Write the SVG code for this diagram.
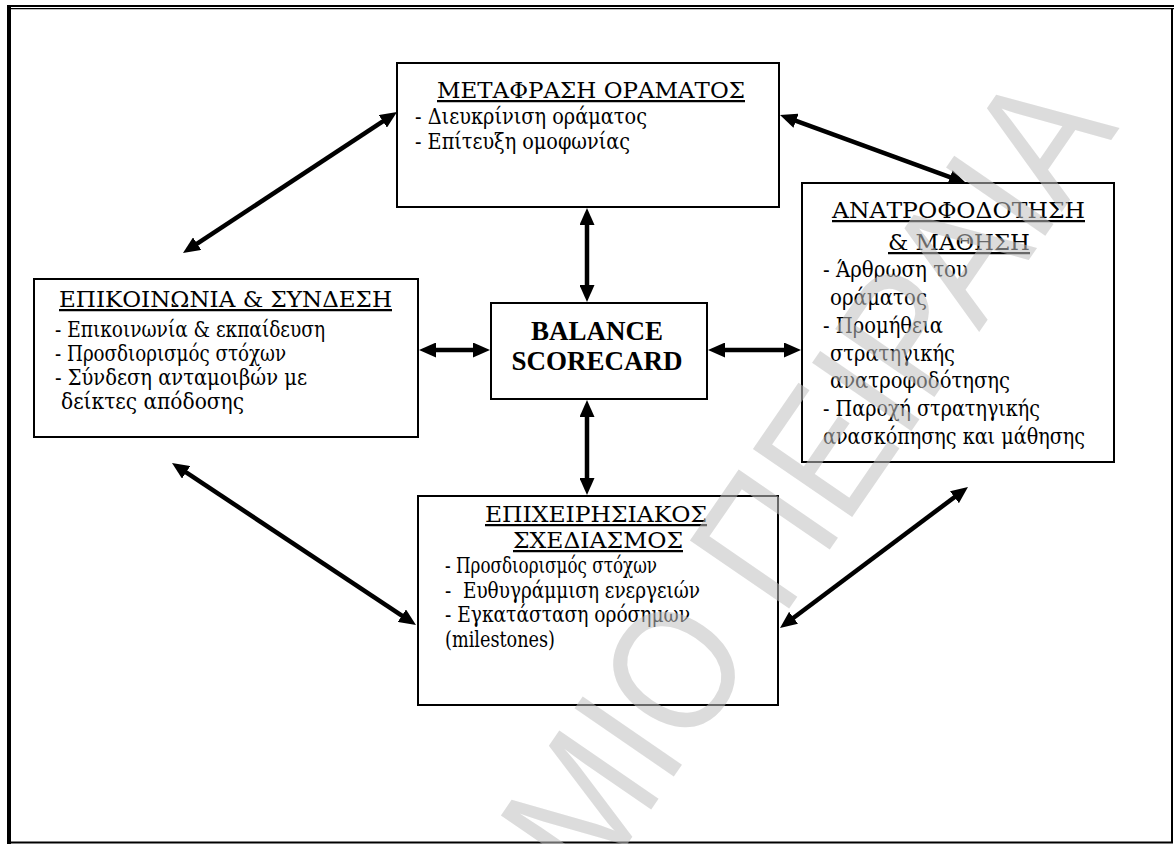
<svg xmlns="http://www.w3.org/2000/svg" width="1174" height="844" viewBox="0 0 1174 844">
  <defs>
    <marker id="head" markerUnits="userSpaceOnUse" viewBox="0 0 17 15" markerWidth="17" markerHeight="15" refX="5" refY="7.5" orient="auto-start-reverse">
      <path d="M0,0 L17,7.5 L0,15 z" fill="#000"/>
    </marker>
    <style>
      .frame line { stroke: #000; }
      .box { fill: #fff; stroke: #000; stroke-width: 2; }
      .t { font-family: "DejaVu Serif", "Liberation Serif", serif; font-size: 22.5px; fill: #000; }
      .title { font-size: 22.5px; text-decoration: underline; }
      .bold { font-family: "Liberation Serif", "Times New Roman", serif; font-weight: bold; font-size: 27px; text-anchor: middle; fill: #000; }
      .conn line { stroke: #000; stroke-width: 4.5; marker-start: url(#head); marker-end: url(#head); }
      .wm { font-family: "Liberation Sans", Arial, sans-serif; font-size: 175px; fill: #c0c0c0; fill-opacity: 0.55; }
    </style>
  </defs>

  <rect width="1174" height="844" fill="#fff"/>

  <!-- page border -->
  <g class="frame">
    <line x1="7" y1="6" x2="1174" y2="6" stroke-width="2"/>
    <line x1="11" y1="8.6" x2="1174" y2="8.6" stroke-width="1.2"/>
    <line x1="9" y1="5" x2="9" y2="844" stroke-width="4"/>
    <line x1="1172" y1="8" x2="1172" y2="843" stroke-width="2"/>
    <line x1="7" y1="842.5" x2="1173" y2="842.5" stroke-width="2"/>
  </g>

  <!-- connectors (double-headed) -->
  <g id="connectors" class="conn">
    <line x1="387" y1="118.6" x2="193" y2="246.4"/>
    <line x1="791.3" y1="119.1" x2="954.7" y2="178.9"/>
    <line x1="587" y1="220" x2="587" y2="290"/>
    <line x1="587" y1="412" x2="587" y2="483"/>
    <line x1="431" y1="350" x2="478" y2="350"/>
    <line x1="720" y1="350" x2="789" y2="350"/>
    <line x1="182" y1="469.6" x2="406" y2="618.4"/>
    <line x1="789.6" y1="620.8" x2="958.4" y2="494.2"/>
  </g>

  <!-- vision translation -->
  <g id="node-vision">
    <rect class="box" x="397" y="63" width="382" height="144"/>
    <text class="t title" x="437" y="98" textLength="308" lengthAdjust="spacingAndGlyphs">ΜΕΤΑΦΡΑΣΗ ΟΡΑΜΑΤΟΣ</text>
    <text class="t" x="415" y="124" textLength="232" lengthAdjust="spacingAndGlyphs">- Διευκρίνιση οράματος</text>
    <text class="t" x="415" y="149" textLength="215" lengthAdjust="spacingAndGlyphs">- Επίτευξη ομοφωνίας</text>
  </g>

  <!-- communication and linking -->
  <g id="node-communication">
    <rect class="box" x="34" y="279" width="384" height="158"/>
    <text class="t title" x="59" y="307" textLength="333" lengthAdjust="spacingAndGlyphs">ΕΠΙΚΟΙΝΩΝΙΑ &amp; ΣΥΝΔΕΣΗ</text>
    <text class="t" x="55" y="337" textLength="270" lengthAdjust="spacingAndGlyphs">- Επικοινωνία &amp; εκπαίδευση</text>
    <text class="t" x="55" y="361" textLength="231" lengthAdjust="spacingAndGlyphs">- Προσδιορισμός στόχων</text>
    <text class="t" x="55" y="385" textLength="252" lengthAdjust="spacingAndGlyphs">- Σύνδεση ανταμοιβών με</text>
    <text class="t" x="61" y="409" textLength="183" lengthAdjust="spacingAndGlyphs">δείκτες απόδοσης</text>
  </g>

  <!-- centre -->
  <g id="node-bsc">
    <rect class="box" x="491" y="303" width="216" height="96"/>
    <text class="bold" x="597" y="340">BALANCE</text>
    <text class="bold" x="597" y="370">SCORECARD</text>
  </g>

  <!-- feedback and learning -->
  <g id="node-feedback">
    <rect class="box" x="802" y="183" width="312" height="279"/>
    <text class="t title" x="832" y="218" textLength="253" lengthAdjust="spacingAndGlyphs">ΑΝΑΤΡΟΦΟΔΟΤΗΣΗ</text>
    <text class="t title" x="888" y="250" textLength="142" lengthAdjust="spacingAndGlyphs">&amp; ΜΑΘΗΣΗ</text>
    <text class="t" x="823" y="277" textLength="145" lengthAdjust="spacingAndGlyphs">- Άρθρωση του</text>
    <text class="t" x="830" y="305" textLength="97" lengthAdjust="spacingAndGlyphs">οράματος</text>
    <text class="t" x="823" y="333" textLength="120" lengthAdjust="spacingAndGlyphs">- Προμήθεια</text>
    <text class="t" x="830" y="361" textLength="125" lengthAdjust="spacingAndGlyphs">στρατηγικής</text>
    <text class="t" x="830" y="388" textLength="180" lengthAdjust="spacingAndGlyphs">ανατροφοδότησης</text>
    <text class="t" x="823" y="416" textLength="217" lengthAdjust="spacingAndGlyphs">- Παροχή στρατηγικής</text>
    <text class="t" x="823" y="444" textLength="262" lengthAdjust="spacingAndGlyphs">ανασκόπησης και μάθησης</text>
  </g>

  <!-- business planning -->
  <g id="node-planning">
    <rect class="box" x="418" y="496" width="360" height="209"/>
    <text class="t title" x="485" y="522" textLength="222" lengthAdjust="spacingAndGlyphs">ΕΠΙΧΕΙΡΗΣΙΑΚΟΣ</text>
    <text class="t title" x="513" y="548" textLength="170" lengthAdjust="spacingAndGlyphs">ΣΧΕΔΙΑΣΜΟΣ</text>
    <text class="t" x="445" y="573" textLength="212" lengthAdjust="spacingAndGlyphs">- Προσδιορισμός στόχων</text>
    <text class="t" x="445" y="598" textLength="255" lengthAdjust="spacingAndGlyphs" xml:space="preserve">-  Ευθυγράμμιση ενεργειών</text>
    <text class="t" x="445" y="622" textLength="245" lengthAdjust="spacingAndGlyphs">- Εγκατάσταση ορόσημων</text>
    <text class="t" x="445" y="647" textLength="110" lengthAdjust="spacingAndGlyphs">(milestones)</text>
  </g>

  <!-- diagonal watermark -->
  <g id="watermark" transform="translate(593,894) rotate(-55.5) scale(0.88,1)">
    <text class="wm" x="0" y="0">ΜΙΟ ΠΕΙΡΑΙΑ</text>
  </g>
</svg>
